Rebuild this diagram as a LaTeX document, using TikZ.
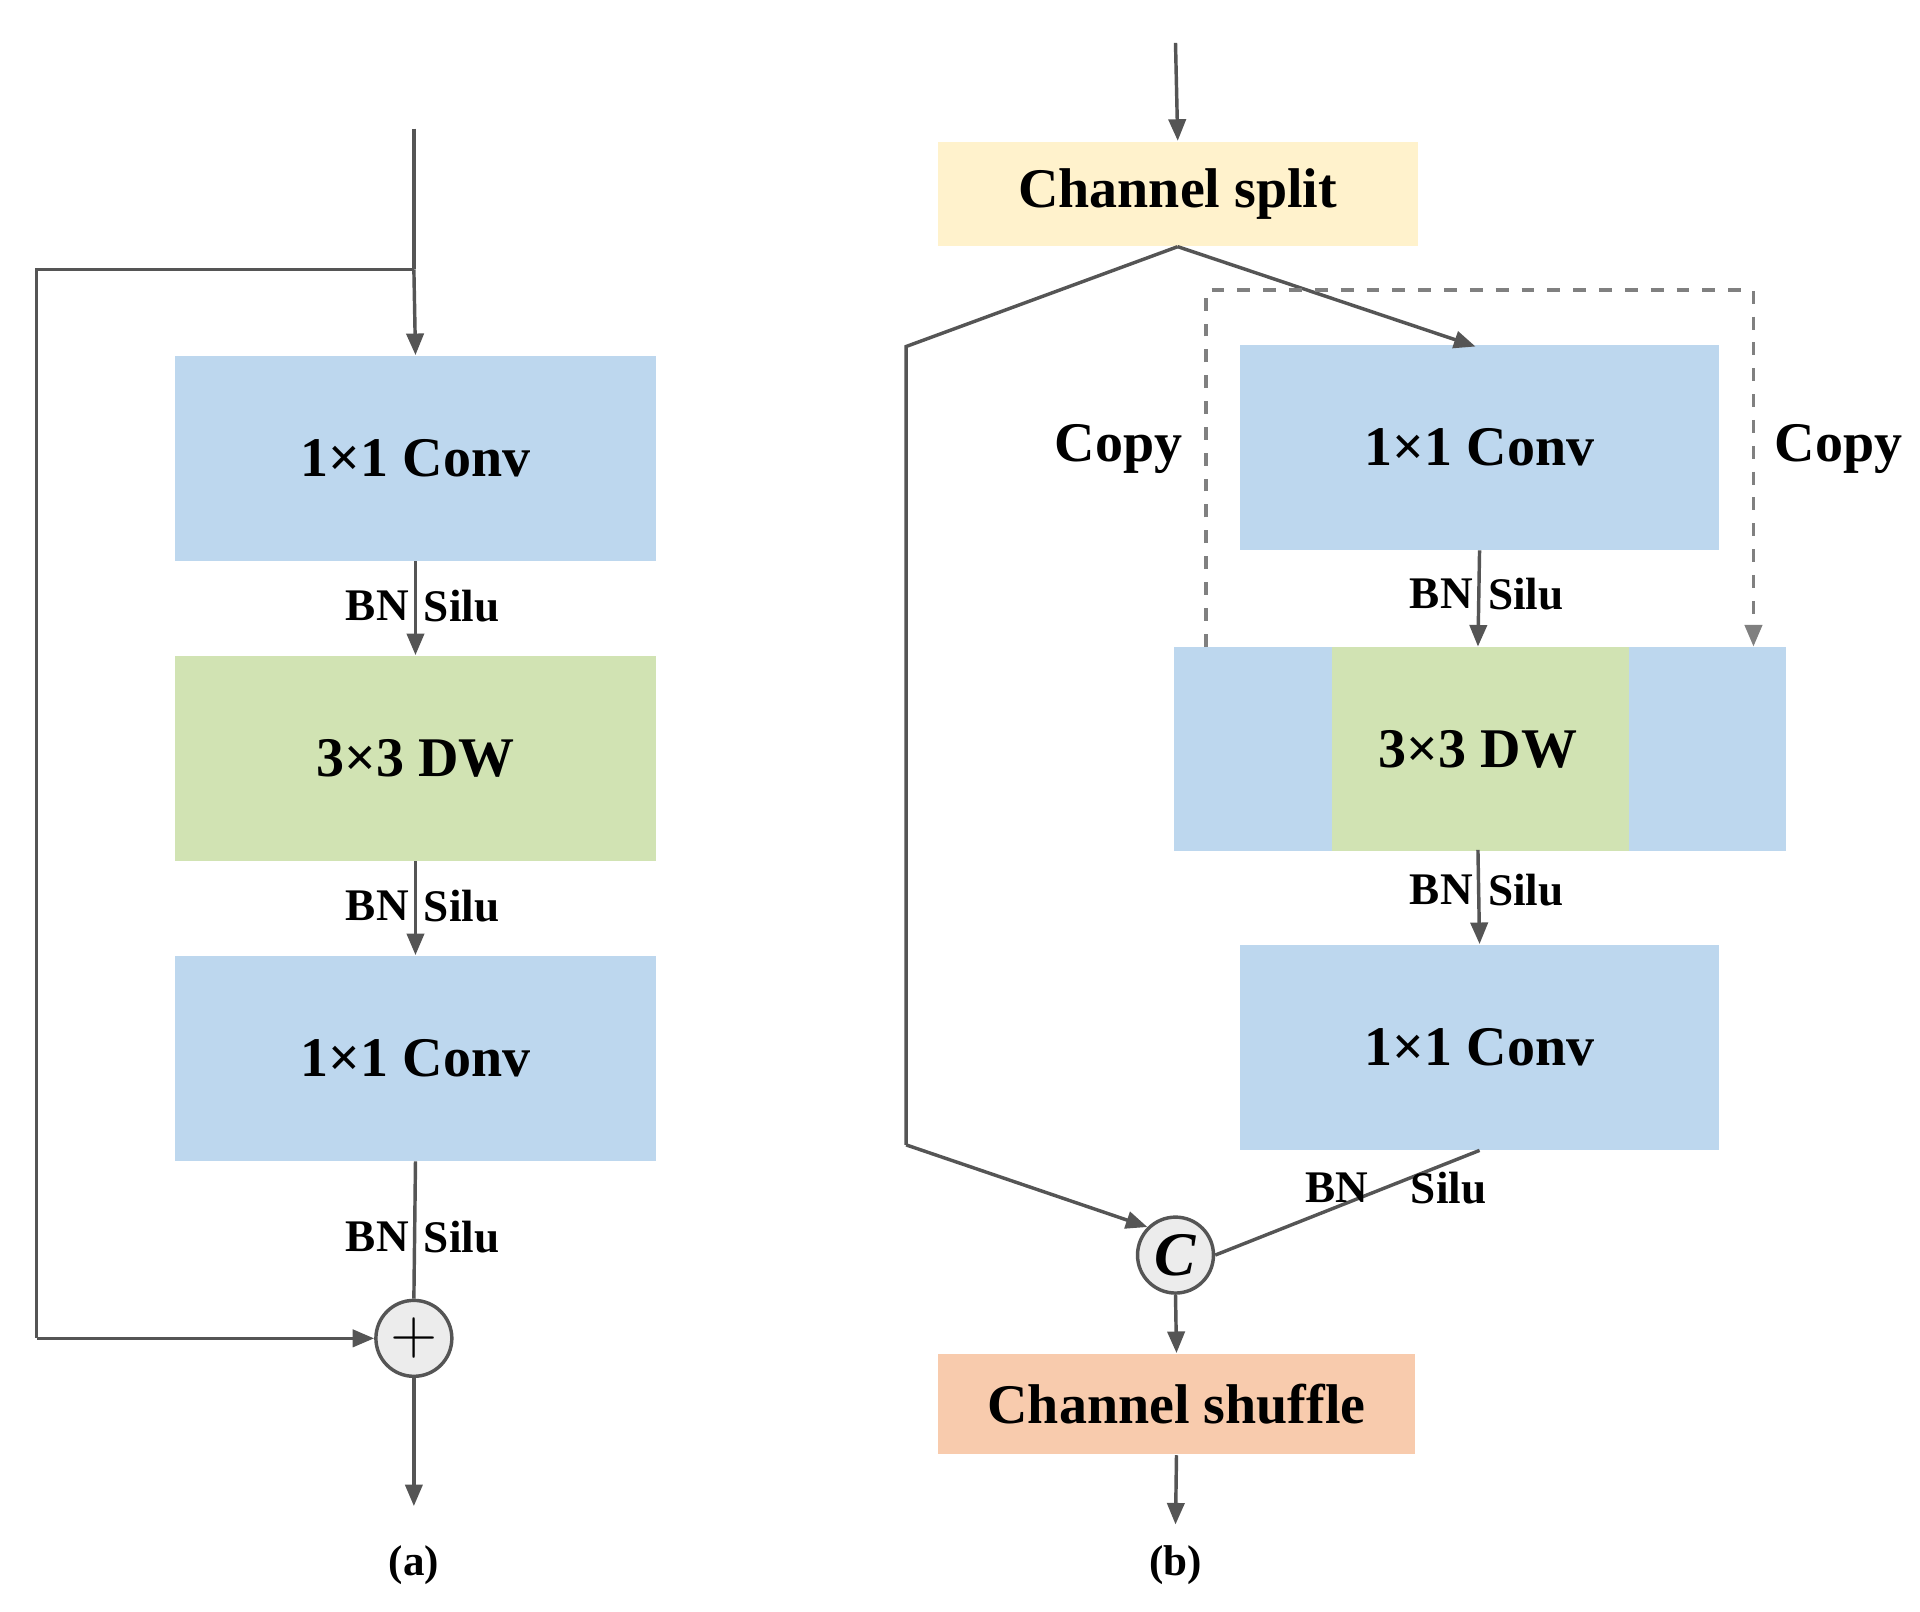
\documentclass[tikz,border=0pt]{standalone}
\usepackage{fontspec}
\setmainfont{Liberation Serif}
\usetikzlibrary{arrows.meta}
\definecolor{bl}{HTML}{BDD7EE}
\definecolor{gr}{HTML}{D1E3B3}
\definecolor{ye}{HTML}{FFF2CC}
\definecolor{or}{HTML}{F8CBAD}
\definecolor{ln}{HTML}{555555}
\begin{document}
\begin{tikzpicture}[x=0.01cm,y=-0.01cm,
  box/.style={draw=none,inner sep=0,anchor=north west},
  t/.style={font=\bfseries\fontsize{13}{15}\selectfont},
  lb/.style={font=\bfseries\fontsize{10.5}{12}\selectfont,inner sep=1pt},
  ar/.style={draw=ln,line width=0.8pt,-{Triangle[length=5pt,width=4pt]}},
  ln/.style={draw=ln,line width=0.8pt},
  op/.style={circle,draw=ln,fill=gray!15,line width=0.8pt,minimum size=0.62cm,inner sep=0}]
\useasboundingbox (0,0) rectangle (1568,1316);
% (a)
\coordinate (atop) at (338,105);
\coordinate (asplit) at (338,220);
\node[box,fill=bl,minimum width=3.93cm,minimum height=1.67cm] (a1) at (142,290) {};
\node[t] at (a1.center) {1×1 Conv};
\node[box,fill=gr,minimum width=3.93cm,minimum height=1.67cm] (a2) at (142,535) {};
\node[t] at (a2.center) {3×3 DW};
\node[box,fill=bl,minimum width=3.93cm,minimum height=1.67cm] (a3) at (142,780) {};
\node[t] at (a3.center) {1×1 Conv};
\node[op,font=\Large] (plus) at (338,1093) {$+$};
\coordinate (aend) at (338,1230);
\coordinate (fl1) at (30,220);
\coordinate (fl2) at (30,1093);
\draw[ln] (atop) -- (asplit);
\draw[ar] (asplit) -- (a1.north);
\draw[ln] (asplit) -- (fl1) -- (fl2);
\draw[ar] (fl2) -- (plus.west);
\draw[ar] (a1.south) -- (a2.north);
\draw[ar] (a2.south) -- (a3.north);
\draw[ln] (a3.south) -- (plus.north);
\draw[ar] (plus.south) -- (aend);
\foreach \y in {495,740,1010}{
  \node[lb,anchor=east] at (338,\y) {BN};
  \node[lb,anchor=west] at (342,\y) {Silu};}
\node[font=\bfseries\fontsize{10}{12}\selectfont] (la) at (338,1278) {(a)};
% (b)
\coordinate (btop) at (960,35);
\node[box,fill=ye,minimum width=3.92cm,minimum height=0.85cm] (cs) at (765,115) {};
\node[t] at (cs.center) {Channel split};
\node[box,fill=bl,minimum width=3.91cm,minimum height=1.67cm] (b1) at (1012,281) {};
\node[t] at (b1.center) {1×1 Conv};
\node[box,fill=bl,minimum width=1.29cm,minimum height=1.66cm] (bl) at (958,528) {};
\node[box,fill=gr,minimum width=2.43cm,minimum height=1.66cm] (b2) at (1087,528) {};
\node[box,fill=bl,minimum width=1.28cm,minimum height=1.66cm] (br) at (1330,528) {};
\node[t] at (1207,612) {3×3 DW};
\node[box,fill=bl,minimum width=3.91cm,minimum height=1.67cm] (b3) at (1012,771) {};
\node[t] at (b3.center) {1×1 Conv};
\node[op,font=\Large\bfseries\itshape] (cc) at (960,1025) {C};
\node[box,fill=or,minimum width=3.90cm,minimum height=0.82cm] (sh) at (765,1105) {};
\node[t] at (sh.center) {Channel shuffle};
\coordinate (bend) at (960,1245);
\coordinate (l1) at (740,283);
\coordinate (l2) at (740,935);
\coordinate (d1) at (985,237);
\coordinate (d2) at (1432,237);
\draw[ar] (btop) -- (cs.north);
\draw[ln] (cs.south) -- (l1) -- (l2);
\draw[ar] (l2) -- (cc.north west);
\draw[ar] (cs.south) -- (1205,283);
\draw[ar,dashed,draw=gray] (985,528) |- (d1) -- (d2) -- (1432,528);
\node[t,anchor=east] at (978,367) {Copy};
\node[t,anchor=west] at (1437,367) {Copy};
\draw[ar] (b1.south) -- (1207,528);
\draw[ar] (1207,694) -- (b3.north);
\draw[ln] (b3.south) -- (cc.east);
\draw[ar] (cc.south) -- (sh.north);
\draw[ar] (sh.south) -- (bend);
\foreach \y in {485,727}{
  \node[lb,anchor=east] at (1207,\y) {BN};
  \node[lb,anchor=west] at (1211,\y) {Silu};}
\node[lb] at (1092,970) {BN};
\node[lb] at (1183,970) {Silu};
\node[font=\bfseries\fontsize{10}{12}\selectfont] (lbb) at (960,1278) {(b)};
\end{tikzpicture}
\end{document}
